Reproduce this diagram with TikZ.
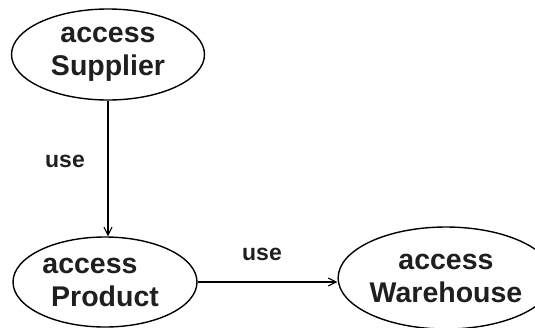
\documentclass[tikz,border=0pt]{standalone}
\usepackage{fontspec}
\setmainfont{Liberation Sans}
\usetikzlibrary{shapes.geometric,arrows.meta}
\begin{document}
\begin{tikzpicture}[x=1pt,y=-1pt,
  usecase/.style={ellipse,draw,line width=1.4pt,inner sep=0pt,align=center,
    font=\bfseries\fontsize{28.5}{33}\selectfont,text=black!88},
  link/.style={line width=1.1pt,-{Straight Barb[length=8pt,width=8pt,line width=1.1pt]}},
  tag/.style={font=\bfseries\fontsize{23}{26}\selectfont,text=black!88}]
\useasboundingbox (0,0) rectangle (535,327);
\node[usecase,minimum width=193pt,minimum height=91pt] (s) at (108,54.5) {access\\Supplier};
\node[usecase,minimum width=184pt,minimum height=90pt] (p) at (105,282) {access\hspace*{30pt}\\Product};
\node[usecase,minimum width=178pt,minimum height=102pt] (w) at (446,278) {access\\Warehouse};
\draw[link] (s.south) -- (s.south |- p.north);
\draw[link] (p.east) -- (p.east -| w.west);
\node[tag] (u1) at (65,161) {use};
\node[tag] (u2) at (262,254) {use};
\end{tikzpicture}
\end{document}
